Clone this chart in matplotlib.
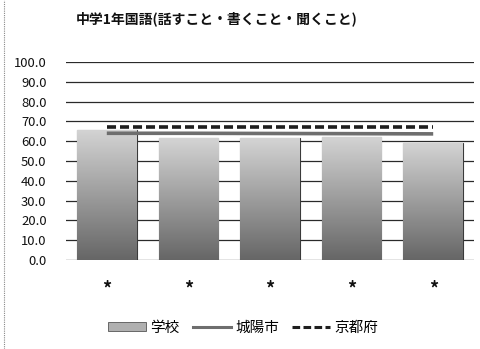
import numpy as np
import matplotlib.pyplot as plt
from matplotlib.colors import LinearSegmentedColormap
from matplotlib.patches import Patch
from matplotlib.lines import Line2D

plt.rcParams['font.family'] = ['Noto Sans CJK JP', 'DejaVu Sans']

categories = ['*', '*', '*', '*', '*']
school = [65.8, 61.5, 61.5, 62.3, 59.2]     # 学校
joyo = [64.0, 64.0, 63.9, 63.8, 63.7]       # 城陽市
kyoto = [67.0, 67.0, 67.0, 67.0, 67.0]      # 京都府
yticks = np.arange(0, 101, 10)

fig = plt.figure(figsize=(4.81, 3.49), dpi=100)
ax = fig.add_axes([66 / 481, 89 / 349, 408 / 481, 198 / 349])

x = np.arange(len(categories))
bars = ax.bar(x, school, width=0.73, color='#a8a8a8', edgecolor='#3a3a3a',
              linewidth=0.8, zorder=2)

# gradient fill, light at the top, dark at the bottom
cmap = LinearSegmentedColormap.from_list('g', ['#666666', '#d4d4d4'])
grad = np.linspace(0, 1, 256).reshape(-1, 1)
for b in bars:
    x0, w, h = b.get_x(), b.get_width(), b.get_height()
    im = ax.imshow(grad, extent=[x0, x0 + w, 0, h], origin='lower',
                   aspect='auto', cmap=cmap, zorder=2.1)
    im.set_clip_path(b)

ax.plot(x, joyo, color='#6e6e6e', lw=2.6, solid_capstyle='butt', zorder=3)
ax.plot(x, kyoto, color='#1e1e1e', lw=2.6, dashes=(2.5, 1.1), zorder=3)

ax.set_xlim(-0.5, len(categories) - 0.5)
ax.set_ylim(0, 100)
ax.set_yticks(yticks)
ax.set_yticklabels([f'{v:.1f}' for v in yticks], fontsize=9.4, color='#111111')
ax.set_xticks(x)
ax.set_xticklabels(categories, fontsize=13, fontweight='bold', color='#111111')
ax.tick_params(axis='both', length=0)
ax.tick_params(axis='y', pad=14)
ax.tick_params(axis='x', pad=14)
ax.grid(axis='y', color='#2a2a2a', lw=0.9, zorder=0)
ax.set_axisbelow(True)
for s in ax.spines.values():
    s.set_visible(False)

fig.text(217 / 481, 1 - 19 / 349, '中学1年国語(話すこと・書くこと・聞くこと)',
         ha='center', va='center', fontsize=10, fontweight='bold', color='#111111')

handles = [Patch(facecolor='#b0b0b0', edgecolor='#555555', lw=0.6),
           Line2D([], [], color='#6e6e6e', lw=2.2),
           Line2D([], [], color='#1e1e1e', lw=2.2, dashes=(2.5, 1.1))]
fig.legend(handles, ['学校', '城陽市', '京都府'], loc='center',
           bbox_to_anchor=(243 / 481, 1 - 328 / 349), ncol=3, frameon=False,
           fontsize=10.5, handlelength=2.6, handleheight=0.55,
           handletextpad=0.3, columnspacing=0.9)

# dotted border left by the scan
fig.add_artist(Line2D([4 / 481, 4 / 481], [0, 1], color='#888888', lw=0.8,
                      ls=(0, (1, 1))))

fig.savefig('out.png', dpi=100)
